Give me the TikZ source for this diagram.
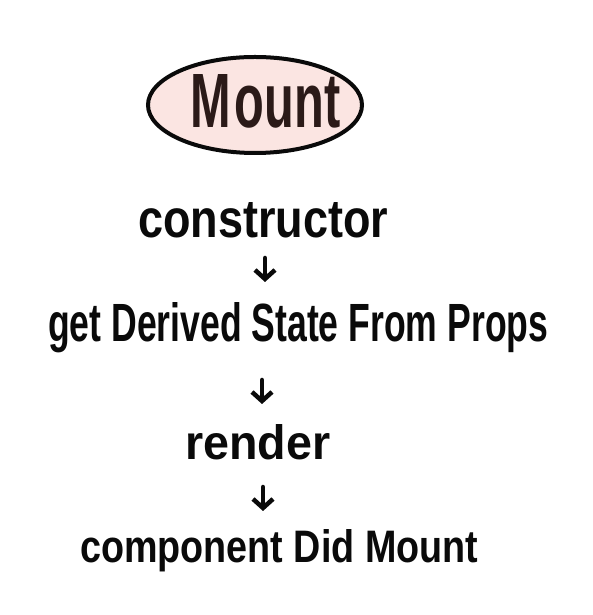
\documentclass[tikz,border=0pt]{standalone}
\usepackage{fontspec}
\setmainfont{Liberation Sans}
\usetikzlibrary{arrows.meta,shapes.geometric}
\definecolor{ink}{HTML}{0A0A0A}
\definecolor{mountink}{HTML}{2B1A18}
\definecolor{pinkfill}{HTML}{FBE5E2}
\tikzset{
  lbl/.style={anchor=base west, inner sep=0pt, text=ink, font=\bfseries},
  flow/.style={line width=4.5pt, line cap=round, line join=round, draw=ink,
    -{Straight Barb[length=9pt,width=20pt,line width=4.5pt]}},
  bubble/.style={draw=ink, line width=4pt, fill=pinkfill, ellipse}
}
\begin{document}
\begin{tikzpicture}[x=1pt,y=1pt]
\useasboundingbox (0,0) rectangle (593,615);
\fill[white] (0,0) rectangle (593,615);
% ellipse
\node[bubble, minimum width=214pt, minimum height=96pt] (mountbox) at (255,510) {};
\node[lbl, text=mountink] (mount) at (190,487) {\resizebox{150pt}{53pt}{M\kern0.08em ount}};
% labels
\node[lbl] (ctor) at (138,377) {\resizebox{250pt}{35pt}{constructor}};
\node[lbl] (gdsfp) at (48,273) {\resizebox{500pt}{39pt}{get Derived State From Props}};
\node[lbl] (rend) at (185,155) {\resizebox{145pt}{35pt}{render}};
\node[lbl] (cdm) at (80,52) {\resizebox{398pt}{33pt}{component Did Mount}};
% arrows
\coordinate (a1s) at (265,357); \coordinate (a1e) at (265,333);
\coordinate (a2s) at (262,235); \coordinate (a2e) at (262,211);
\coordinate (a3s) at (263,128); \coordinate (a3e) at (263,104);
\draw[flow] (a1s) -- (a1e);
\draw[flow] (a2s) -- (a2e);
\draw[flow] (a3s) -- (a3e);
\end{tikzpicture}
\end{document}
